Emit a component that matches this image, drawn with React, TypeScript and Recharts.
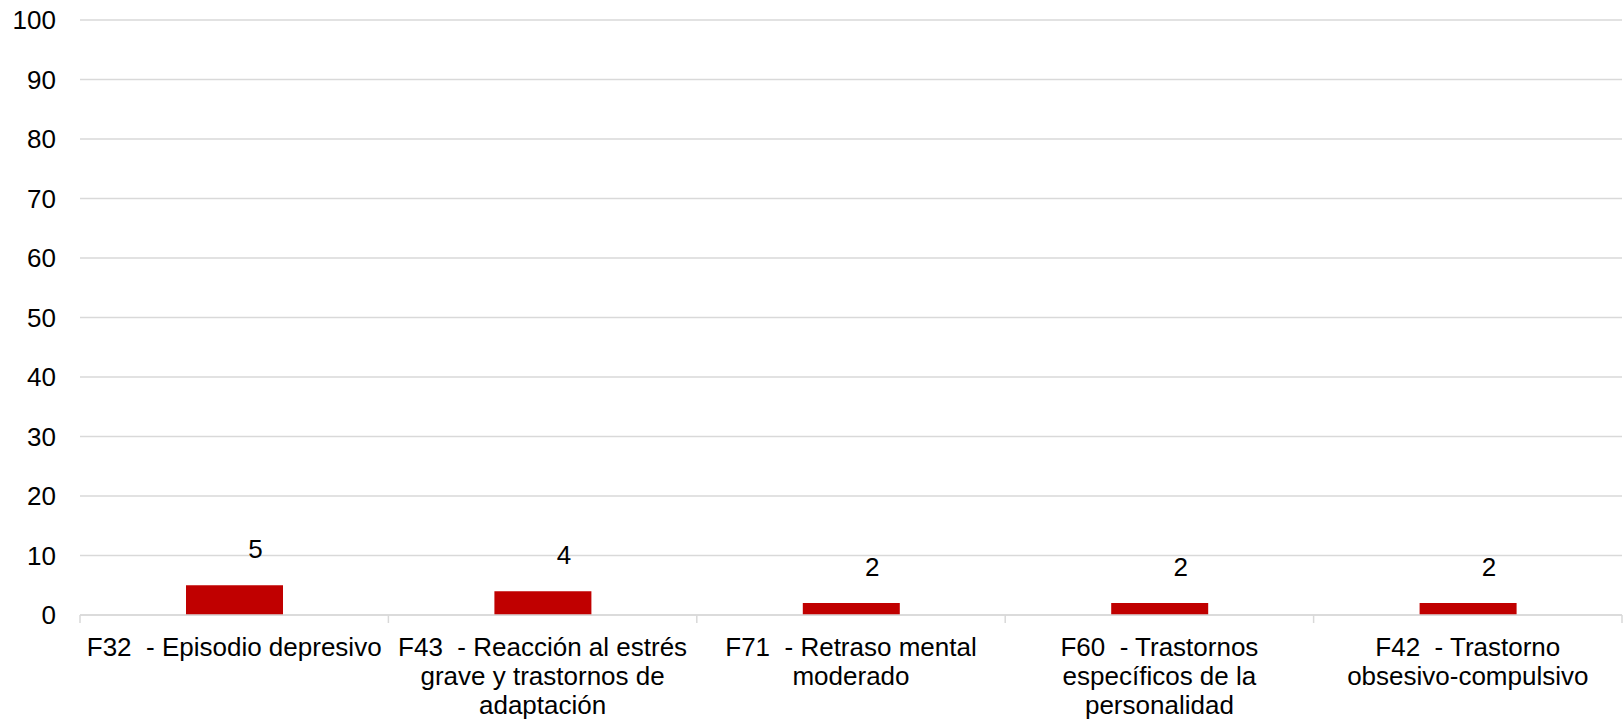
import { Bar, BarChart, CartesianGrid, LabelList, XAxis, YAxis } from "recharts";

const categories = [
  "F32  - Episodio depresivo",
  "F43  - Reacción al estrés\ngrave y trastornos de\nadaptación",
  "F71  - Retraso mental\nmoderado",
  "F60  - Trastornos\nespecíficos de la\npersonalidad",
  "F42  - Trastorno\nobsesivo-compulsivo",
];
const counts = [5, 4, 2, 2, 2];
const yTicks = [0, 10, 20, 30, 40, 50, 60, 70, 80, 90, 100];

const data = categories.map((name, i) => ({ name, value: counts[i] }));

const W = 1624;
const H = 723;
const M = { top: 20, right: 2, left: 0, bottom: 0 };
const Y_AXIS_W = 80;
const X_AXIS_H = 108;
const BAND = (W - M.left - M.right - Y_AXIS_W) / categories.length;
const FONT = "'Liberation Sans', Arial, sans-serif";
const FS = 26;

function CategoryTick(props: any) {
  const { x, y, payload, index } = props;
  const lines = String(payload.value).split("\n");
  const left = x - BAND / 2;
  return (
    <g>
      <line x1={left} x2={left} y1={y} y2={y + 8} stroke="#d9d9d9" strokeWidth={1.5} />
      {index === categories.length - 1 && (
        <line x1={x + BAND / 2} x2={x + BAND / 2} y1={y} y2={y + 8} stroke="#d9d9d9" strokeWidth={1.5} />
      )}
      <text
        x={x}
        y={y + 41}
        textAnchor="middle"
        fontFamily={FONT}
        fontSize={FS}
        fill="#000"
        style={{ whiteSpace: "pre" }}
      >
        {lines.map((l, i) => (
          <tspan key={i} x={x} dy={i === 0 ? 0 : 29}>
            {l}
          </tspan>
        ))}
      </text>
    </g>
  );
}

function ValueLabel(props: any) {
  const { x, y, width, value } = props;
  return (
    <text
      x={x + width / 2 + 21}
      y={y - 27}
      textAnchor="middle"
      fontFamily={FONT}
      fontSize={FS}
      fill="#000"
    >
      {value}
    </text>
  );
}

export default function App() {
  return (
    <div style={{ position: "absolute", left: 0, top: 0, background: "#fff" }}>
      <BarChart width={W} height={H} data={data} margin={M}>
        <CartesianGrid vertical={false} stroke="#d9d9d9" strokeWidth={1.5} />
        <XAxis
          dataKey="name"
          height={X_AXIS_H}
          interval={0}
          tickLine={false}
          tickSize={0}
          tickMargin={0}
          stroke="#d9d9d9"
          strokeWidth={1.5}
          tick={<CategoryTick />}
        />
        <YAxis
          width={Y_AXIS_W}
          domain={[0, 100]}
          ticks={yTicks}
          axisLine={false}
          tickLine={false}
          tickSize={0}
          tickMargin={24}
          tick={{ fontFamily: FONT, fontSize: FS, fill: "#000" }}
        />
        <Bar dataKey="value" fill="#c00000" barSize={97} isAnimationActive={false}>
          <LabelList dataKey="value" content={<ValueLabel />} />
        </Bar>
      </BarChart>
    </div>
  );
}
